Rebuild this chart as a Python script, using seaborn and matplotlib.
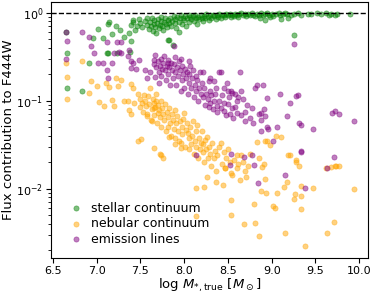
import numpy as np
import pandas as pd
import matplotlib
matplotlib.use("Agg")
import matplotlib.pyplot as plt
import seaborn as sns

# flux fractions, (log M*, fraction)
stellar_pts = [
    (6.65, 0.61), (6.66, 0.35), (6.66, 0.14), (6.83, 0.13), (6.91, 0.27), (6.96, 0.52),
    (7.07, 0.52), (7.02, 0.65), (7.13, 0.35), (7.12, 0.35), (7.23, 0.35), (7.13, 0.74),
    (7.14, 0.78), (7.18, 0.57), (7.22, 0.71), (7.27, 0.63), (7.31, 0.53), (7.37, 0.58),
    (7.39, 0.47), (7.38, 0.36), (7.39, 0.72), (7.41, 0.83), (7.46, 0.71), (7.48, 0.85),
    (7.44, 0.64), (7.42, 0.78), (7.50, 0.76), (7.52, 0.68),
    (7.55, 0.80), (7.57, 0.72), (7.58, 0.86), (7.60, 0.65), (7.61, 0.78), (7.62, 0.70),
    (7.63, 0.88), (7.64, 0.62), (7.65, 0.75), (7.66, 0.82), (7.67, 0.69), (7.68, 0.59),
    (7.69, 0.77), (7.70, 0.85), (7.71, 0.66), (7.72, 0.73), (7.73, 0.80), (7.74, 0.90),
    (7.75, 0.70), (7.76, 0.63), (7.77, 0.78), (7.78, 0.86), (7.79, 0.74), (7.80, 0.68),
    (7.82, 0.49), (7.83, 0.49), (7.82, 0.82), (7.83, 0.76), (7.84, 0.88), (7.85, 0.71),
    (7.86, 0.80), (7.87, 0.43), (7.88, 0.92), (7.89, 0.77), (7.90, 0.84), (7.91, 0.66),
    (7.92, 0.89), (7.94, 0.61), (7.94, 0.79), (7.95, 0.86), (7.96, 0.93), (7.98, 0.74),
    (7.99, 0.88), (8.00, 0.82), (8.01, 0.91), (8.02, 0.70), (8.03, 0.86), (8.05, 0.94),
    (8.06, 0.78), (8.07, 0.89), (8.08, 0.84), (8.10, 0.92), (8.11, 0.80), (8.12, 0.95),
    (8.13, 0.87), (8.15, 0.75), (8.16, 0.90), (8.17, 0.84), (8.19, 0.94), (8.20, 0.88),
    (8.21, 0.81), (8.23, 0.92), (8.24, 0.86), (8.25, 0.96), (8.27, 0.90), (8.28, 0.83),
    (8.30, 0.93), (8.31, 0.88), (8.33, 0.95), (8.34, 0.91), (8.36, 0.85), (8.37, 0.94),
    (8.39, 0.90), (8.40, 0.97), (8.42, 0.88), (8.43, 0.93), (8.45, 0.95), (8.47, 0.90),
    (8.48, 0.97), (8.50, 0.93), (8.52, 0.96), (8.53, 0.89), (8.55, 0.95), (8.57, 0.92),
    (8.58, 0.97), (8.60, 0.94), (8.62, 0.90), (8.63, 0.96), (8.65, 0.98), (8.67, 0.93),
    (8.69, 0.96), (8.71, 0.91), (8.73, 0.97), (8.75, 0.94), (8.77, 0.98), (8.79, 0.95),
    (8.81, 0.92), (8.83, 0.97), (8.85, 0.95), (8.87, 0.87), (8.88, 0.98), (8.90, 0.93),
    (8.92, 0.96), (8.92, 0.83), (8.95, 0.98), (8.97, 0.94), (8.98, 0.90), (9.00, 0.97),
    (9.02, 0.91), (9.05, 0.96), (9.08, 0.98), (9.10, 0.95), (9.11, 0.85), (9.13, 0.97),
    (9.15, 0.99), (9.18, 0.96), (9.19, 0.88), (9.22, 0.93), (9.25, 0.56), (9.26, 0.97),
    (9.30, 0.99), (9.33, 0.95), (9.41, 0.97), (9.45, 0.96), (9.52, 0.98), (9.56, 0.96),
    (9.62, 0.98), (9.66, 0.93), (9.68, 0.97), (9.72, 0.95), (9.75, 0.96), (9.90, 0.96),
]

nebular_pts = [
    (6.65, 0.27), (6.66, 0.185), (6.66, 0.104), (6.83, 0.28), (6.93, 0.165), (7.00, 0.148),
    (6.91, 0.122), (7.03, 0.096), (7.08, 0.088), (7.14, 0.142), (7.11, 0.16), (7.18, 0.102),
    (7.20, 0.088), (7.22, 0.18), (7.28, 0.17), (7.24, 0.145), (7.39, 0.155), (7.41, 0.14),
    (7.37, 0.079), (7.39, 0.070), (7.31, 0.10), (7.36, 0.10), (7.43, 0.093), (7.54, 0.116),
    (7.61, 0.14), (7.58, 0.066), (7.63, 0.058), (7.68, 0.10), (7.65, 0.083), (7.70, 0.072),
    (7.47, 0.12), (7.49, 0.105), (7.50, 0.085), (7.52, 0.095), (7.53, 0.075), (7.55, 0.10),
    (7.56, 0.088), (7.57, 0.07), (7.59, 0.112), (7.60, 0.092), (7.62, 0.06), (7.63, 0.08),
    (7.64, 0.105), (7.65, 0.094), (7.66, 0.068), (7.67, 0.085), (7.68, 0.12), (7.69, 0.055),
    (7.70, 0.09), (7.71, 0.078), (7.72, 0.065), (7.73, 0.10), (7.74, 0.05), (7.75, 0.083),
    (7.76, 0.07), (7.77, 0.06), (7.78, 0.092), (7.79, 0.045), (7.80, 0.075), (7.81, 0.05),
    (7.82, 0.065), (7.83, 0.082), (7.84, 0.055), (7.85, 0.04), (7.86, 0.07), (7.87, 0.06),
    (7.88, 0.048), (7.89, 0.078), (7.90, 0.038), (7.91, 0.055), (7.92, 0.066), (7.93, 0.045),
    (7.94, 0.035), (7.95, 0.058), (7.96, 0.033), (7.97, 0.05), (7.98, 0.042), (7.99, 0.062),
    (8.00, 0.072), (8.01, 0.03), (8.02, 0.046), (8.03, 0.055), (8.04, 0.043), (8.05, 0.028),
    (8.06, 0.038), (8.07, 0.05), (8.08, 0.032), (8.09, 0.04), (8.10, 0.058), (8.11, 0.025),
    (8.12, 0.035), (8.13, 0.045), (8.14, 0.03), (8.15, 0.053), (8.16, 0.022), (8.17, 0.038),
    (8.18, 0.028), (8.19, 0.033), (8.20, 0.045), (8.21, 0.026), (8.22, 0.032), (8.23, 0.02),
    (8.24, 0.036), (8.25, 0.028), (8.26, 0.039), (8.27, 0.022), (8.28, 0.03), (8.30, 0.025),
    (8.31, 0.018), (8.32, 0.033), (8.34, 0.022), (8.35, 0.027), (8.36, 0.016), (8.38, 0.024),
    (8.40, 0.03), (8.42, 0.033), (8.43, 0.019), (8.45, 0.026), (8.47, 0.017), (8.48, 0.022),
    (8.50, 0.028), (8.52, 0.02), (8.53, 0.015), (8.55, 0.0143), (8.57, 0.021), (8.60, 0.017),
    (8.62, 0.019), (8.65, 0.024), (8.67, 0.02), (8.70, 0.016), (8.73, 0.018), (8.13, 0.0102),
    (8.23, 0.0105), (8.36, 0.012), (8.44, 0.011), (8.53, 0.0074), (8.26, 0.0135), (8.47, 0.017),
    (8.64, 0.0125), (8.71, 0.0135), (8.14, 0.0049), (8.53, 0.005), (8.68, 0.0040), (8.80, 0.0066),
    (8.81, 0.0041), (8.85, 0.0029), (8.83, 0.034), (8.98, 0.031), (9.05, 0.04), (9.19, 0.024),
    (9.28, 0.021), (9.73, 0.018), (9.77, 0.018), (8.92, 0.035), (8.95, 0.035), (8.89, 0.0178),
    (8.91, 0.019), (9.21, 0.024), (9.28, 0.02), (9.31, 0.018), (9.34, 0.0108), (9.47, 0.0102),
    (9.14, 0.0104), (9.17, 0.012), (9.06, 0.0089), (8.94, 0.009), (8.88, 0.0095), (8.92, 0.013),
    (9.27, 0.0087), (9.33, 0.0083), (9.26, 0.0077), (9.34, 0.0059), (9.01, 0.0064), (9.04, 0.006),
    (9.71, 0.0042), (9.15, 0.0031), (9.63, 0.0031), (9.38, 0.0022), (9.94, 0.010), (9.68, 0.0178),
    (9.72, 0.018), (9.62, 0.017), (9.11, 0.039), (7.47, 0.035), (7.51, 0.037), (7.65, 0.029),
    (7.72, 0.025), (8.75, 0.025), (8.85, 0.022), (8.60, 0.024), (7.73, 0.024), (7.76, 0.022),
    (7.83, 0.039), (7.90, 0.032), (7.96, 0.029),
]

emission_pts = [
    (6.65, 0.61), (6.66, 0.48), (6.65, 0.30), (6.83, 0.61), (6.91, 0.53), (6.93, 0.42),
    (6.97, 0.35), (7.02, 0.27), (7.07, 0.27), (7.12, 0.46), (7.18, 0.27), (7.20, 0.35),
    (7.23, 0.46), (7.28, 0.46), (7.28, 0.35), (7.25, 0.36), (7.37, 0.38), (7.36, 0.32),
    (7.39, 0.28), (7.42, 0.27), (7.48, 0.29), (7.45, 0.23), (7.39, 0.235), (7.55, 0.22),
    (7.61, 0.21), (7.66, 0.29), (7.58, 0.18), (7.67, 0.185), (7.71, 0.158), (7.12, 0.22),
    (7.13, 0.18), (7.88, 0.42),
    (7.65, 0.26), (7.67, 0.33), (7.68, 0.24), (7.70, 0.28), (7.71, 0.21), (7.72, 0.25),
    (7.73, 0.30), (7.74, 0.19), (7.75, 0.23), (7.76, 0.27), (7.77, 0.32), (7.78, 0.22),
    (7.79, 0.17), (7.80, 0.25), (7.81, 0.29), (7.82, 0.20), (7.83, 0.24), (7.84, 0.15),
    (7.85, 0.27), (7.86, 0.22), (7.87, 0.18), (7.88, 0.26), (7.89, 0.31), (7.90, 0.21),
    (7.91, 0.15), (7.92, 0.24), (7.93, 0.19), (7.94, 0.28), (7.95, 0.22), (7.96, 0.13),
    (7.97, 0.17), (7.98, 0.25), (7.99, 0.20), (8.00, 0.14), (8.01, 0.23), (8.02, 0.18),
    (8.03, 0.21), (8.04, 0.12), (8.05, 0.16), (8.06, 0.20), (8.07, 0.25), (8.08, 0.14),
    (8.09, 0.18), (8.10, 0.22), (8.11, 0.11), (8.12, 0.15), (8.13, 0.19), (8.14, 0.13),
    (8.15, 0.17), (8.16, 0.10), (8.17, 0.14), (8.18, 0.21), (8.19, 0.12), (8.20, 0.16),
    (8.22, 0.11), (8.23, 0.14), (8.24, 0.09), (8.25, 0.12), (8.27, 0.105), (8.28, 0.085),
    (8.29, 0.13), (8.30, 0.095), (8.31, 0.115), (8.33, 0.08), (8.34, 0.10), (8.35, 0.12),
    (8.37, 0.088), (8.38, 0.075), (8.40, 0.21), (8.40, 0.10), (8.42, 0.082), (8.43, 0.115),
    (8.45, 0.076), (8.46, 0.095), (8.48, 0.068), (8.49, 0.158), (8.50, 0.092), (8.51, 0.11),
    (8.52, 0.07), (8.53, 0.13), (8.55, 0.122), (8.55, 0.082), (8.56, 0.063), (8.58, 0.085),
    (8.60, 0.073), (8.60, 0.10), (8.62, 0.111), (8.64, 0.21), (8.65, 0.068), (8.67, 0.105),
    (8.69, 0.075), (8.70, 0.058), (8.72, 0.09), (8.75, 0.064), (8.77, 0.083), (8.79, 0.055),
    (8.81, 0.138), (8.83, 0.15), (8.85, 0.07), (8.88, 0.072), (8.88, 0.06), (8.88, 0.045),
    (8.90, 0.15), (8.91, 0.08), (8.92, 0.066), (8.95, 0.108), (8.95, 0.05), (8.96, 0.048),
    (9.02, 0.035), (9.06, 0.05), (9.10, 0.118), (9.17, 0.066), (9.21, 0.095), (9.28, 0.113),
    (9.30, 0.116), (9.31, 0.056), (9.34, 0.053), (9.33, 0.027), (9.47, 0.047), (9.69, 0.072),
    (9.72, 0.076), (9.77, 0.070), (9.94, 0.059), (9.71, 0.023), (9.63, 0.017), (8.14, 0.024),
    (8.53, 0.025), (8.52, 0.0186), (8.68, 0.0228), (8.78, 0.024), (8.80, 0.0186), (8.84, 0.0117),
    (9.15, 0.0143), (9.34, 0.026), (9.38, 0.0102), (9.25, 0.44),
    (8.05, 0.28), (7.96, 0.30), (8.21, 0.21), (8.28, 0.165), (8.36, 0.138), (7.81, 0.27),
    (8.34, 0.165), (8.42, 0.21), (8.30, 0.18), (8.45, 0.14), (8.50, 0.13), (8.58, 0.12),
    (8.65, 0.13),
]

labels = ["stellar continuum", "nebular continuum", "emission lines"]
colors = ["green", "orange", "purple"]

plt.rcParams["font.family"] = ["DejaVu Sans"]
fig = plt.figure(figsize=(3.72, 2.94), dpi=100)
ax = fig.add_axes([0.137, 0.122, 0.852, 0.871])

for pts, lab, col in zip([stellar_pts, nebular_pts, emission_pts], labels, colors):
    df = pd.DataFrame(pts, columns=["logm", "frac"])
    sns.scatterplot(data=df, x="logm", y="frac", ax=ax, color=col, alpha=0.5,
                    s=14, edgecolor="face", linewidth=0.5, label=lab)

ax.axhline(1.0, color="k", ls="--", lw=1)
ax.set_yscale("log")
ax.set_xlim(6.477, 10.1)
ax.set_ylim(10 ** -2.79, 10 ** 0.12)
ax.set_xticks([6.5, 7.0, 7.5, 8.0, 8.5, 9.0, 9.5, 10.0])
ax.tick_params(labelsize=8, pad=2)
ax.set_xlabel(r"log $M_{*,\rm true}$ [$M_\odot$]", fontsize=9.5, labelpad=1)
ax.set_ylabel("Flux contribution to F444W", fontsize=9.5, labelpad=1)
ax.legend(loc="lower left", frameon=False, fontsize=9, handletextpad=0.2,
          labelspacing=0.2, borderaxespad=0.6, markerscale=1.0)

fig.savefig("out.png", dpi=100)
